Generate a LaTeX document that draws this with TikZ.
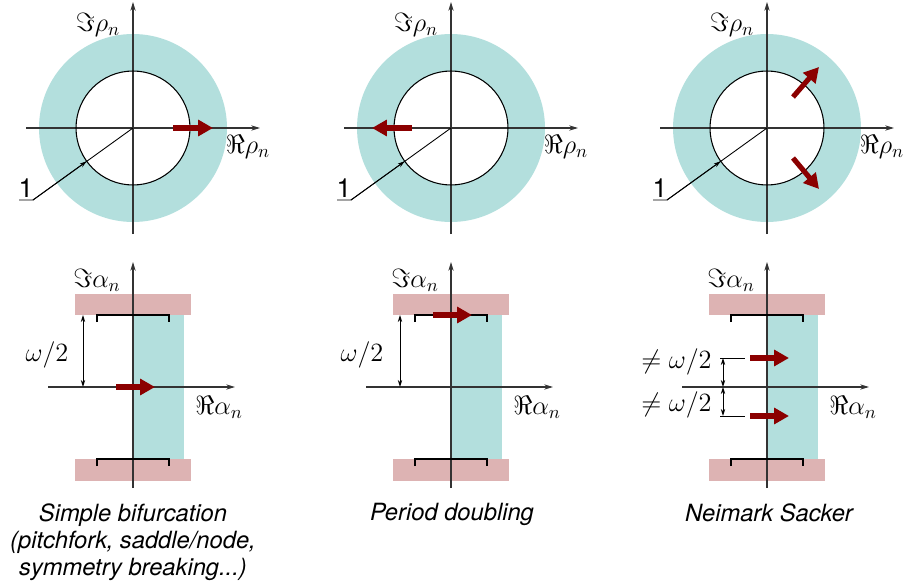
\RequirePackage{fix-cm}
\documentclass[tikz,border=0pt]{standalone}
\usepackage{fontspec}
\setsansfont{TeX Gyre Heros}
\usepackage{tikz}
\usetikzlibrary{arrows.meta, positioning, calc}
\definecolor{ringcyan}{HTML}{B3DFDD}
\definecolor{barpink}{HTML}{DDB3B3}
\definecolor{eigred}{HTML}{8B0000}

\begin{document}
\begin{tikzpicture}[
    x=0.02cm, y=-0.02cm,
    axisarr/.style={-{Stealth[length=5pt, width=3pt]}, line width=0.7pt, black!80},
    unitcirc/.style={draw=black, line width=0.6pt},
    ringfill/.style={fill=ringcyan, even odd rule},
    barfill/.style={fill=barpink},
    stripfill/.style={fill=ringcyan},
    bracket/.style={draw=black, line width=0.7pt},
    eigarr/.style={-{Triangle[length=8.5pt, width=9pt]}, line width=2.9pt, eigred},
    dimarr/.style={{Stealth[length=4pt, width=2.5pt]}-{Stealth[length=4pt, width=2.5pt]}, line width=0.5pt},
    leadarr/.style={-{Stealth[length=4pt, width=2.5pt]}, line width=0.5pt},
    mlbl/.style={font=\fontsize{15}{18}\selectfont, inner sep=0pt},
    captext/.style={font=\sffamily\itshape\fontsize{13.5}{15.5}\selectfont, align=center, inner sep=0pt}
]
    \useasboundingbox (0,0) rectangle (906,588);

    % top row: Floquet multiplier planes
    \foreach \i/\cx in {1/133, 2/451, 3/767} {
        \begin{scope}[shift={(\cx,128)}]
            \fill[ringfill] (0,0) circle[radius=1.88cm] (0,0) circle[radius=1.14cm];
            \coordinate (o\i) at (0,0);
            \coordinate (rw\i) at (-107,0); \coordinate (re\i) at (127,0);
            \coordinate (rs\i) at (0,106);  \coordinate (rn\i) at (0,-126);
            \draw[axisarr] (rw\i) -- (re\i);
            \draw[axisarr] (rs\i) -- (rn\i);
            \draw[unitcirc] (o\i) circle[radius=1.14cm];
            \node[mlbl] (imrho\i) at (-35,-103) {$\Im\rho_n$};
            \node[mlbl] (rerho\i) at (115,19) {$\Re\rho_n$};
            \node[font=\sffamily\fontsize{15}{18}\selectfont, inner sep=0pt] (one\i) at (-107,60) {1};
            \coordinate (ua\i) at (-114,72); \coordinate (ub\i) at (-100,72);
            \coordinate (hit\i) at (-46.3,33.3);
            \draw[line width=0.5pt] (ua\i) -- (ub\i) -- (o\i);
            \draw[leadarr] (ub\i) -- (hit\i);
        \end{scope}
    }

    % multipliers leaving the unit circle
    \draw[eigarr] ($(o1)+(40,0)$) -- ($(o1)+(80,0)$);
    \draw[eigarr] ($(o2)+(-39,0)$) -- ($(o2)+(-79,0)$);
    \draw[eigarr] ($(o3)+(26,-31)$) -- ($(o3)+(52,-61)$);
    \draw[eigarr] ($(o3)+(26,30)$) -- ($(o3)+(52,61)$);

    % bottom row: Floquet exponent planes
    \foreach \i/\cx in {1/133, 2/451, 3/767} {
        \begin{scope}[shift={(\cx,387)}]
            \fill[barfill] (-58,-93) rectangle (58,-72);
            \fill[barfill] (-58,72) rectangle (58,94);
            \fill[stripfill] (0,-72) rectangle (51,72);
            \coordinate (p\i) at (0,0);
            \coordinate (aw\i) at (-85,0); \coordinate (ae\i) at (102,0);
            \coordinate (as\i) at (0,101); \coordinate (an\i) at (0,-125);
            \draw[axisarr] (aw\i) -- (ae\i);
            \draw[axisarr] (as\i) -- (an\i);
            \draw[bracket] (-36,-65) -- (-36,-72) -- (36,-72) -- (36,-65);
            \draw[bracket] (-36,79) -- (-36,72) -- (36,72) -- (36,79);
            \node[mlbl] (imal\i) at (-36,-107) {$\Im\alpha_n$};
            \node[mlbl] (real\i) at (86,20) {$\Re\alpha_n$};
        \end{scope}
    }

    % half-period dimensions
    \coordinate (d1t) at ($(p1)+(-50,-72)$); \coordinate (d1b) at ($(p1)+(-50,0)$);
    \draw[dimarr] (d1t) -- (d1b);
    \node[mlbl] (w1) at ($(p1)+(-86,-32)$) {$\omega/2$};
    \coordinate (d2t) at ($(p2)+(-51,-72)$); \coordinate (d2b) at ($(p2)+(-51,0)$);
    \draw[dimarr] (d2t) -- (d2b);
    \node[mlbl] (w2) at ($(p2)+(-89,-32)$) {$\omega/2$};
    \coordinate (d3t) at ($(p3)+(-44,-29)$); \coordinate (d3m) at ($(p3)+(-44,0)$);
    \coordinate (d3b) at ($(p3)+(-44,29)$);
    \draw[dimarr] (d3t) -- (d3m);
    \draw[dimarr] (d3m) -- (d3b);
    \draw[line width=0.5pt] ($(d3t)+(-3,0)$) -- ($(d3t)+(22,0)$);
    \draw[line width=0.5pt] ($(d3b)+(-3,0)$) -- ($(d3b)+(22,0)$);
    \node[mlbl, anchor=east] (nw3a) at ($(p3)+(-55,-25)$) {$\neq\omega/2$};
    \node[mlbl, anchor=east] (nw3b) at ($(p3)+(-55,18)$) {$\neq\omega/2$};

    % exponents crossing
    \draw[eigarr] ($(p1)+(-17,0)$) -- ($(p1)+(22,0)$);
    \draw[eigarr] ($(p2)+(-18,-72)$) -- ($(p2)+(21,-72)$);
    \draw[eigarr] ($(p3)+(-17,-29)$) -- ($(p3)+(22,-29)$);
    \draw[eigarr] ($(p3)+(-17,29)$) -- ($(p3)+(22,29)$);

    % captions
    \node[captext, anchor=north] (cap1) at (133,503) {Simple bifurcation\\(pitchfork, saddle/node,\\symmetry breaking...)};
    \node[captext, anchor=north] (cap2) at (452,503) {Period doubling};
    \node[captext, anchor=north] (cap3) at (769,503) {Neimark Sacker};
\end{tikzpicture}
\end{document}
